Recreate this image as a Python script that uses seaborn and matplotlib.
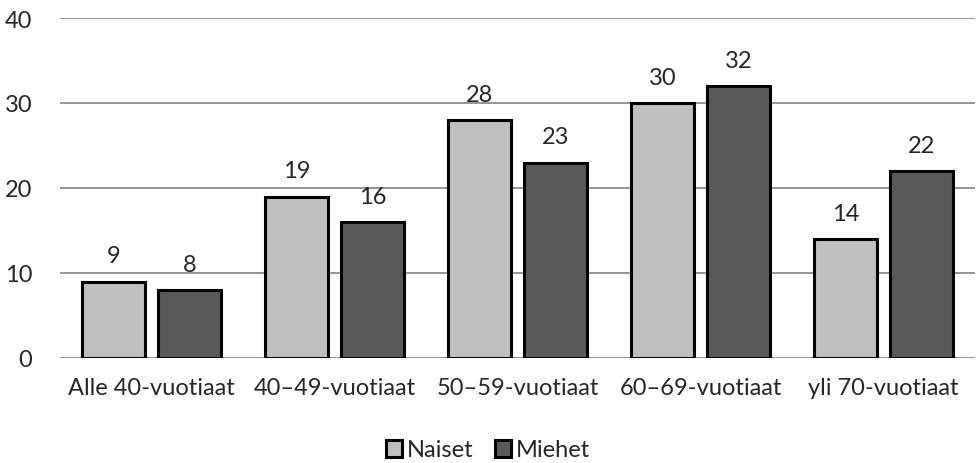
import pandas as pd
import seaborn as sns
import matplotlib.pyplot as plt

sns.set_style('white')
plt.rcParams['font.family'] = ['Lato', 'DejaVu Sans']

# --- data ---
categories = ['Alle 40-vuotiaat', '40–49-vuotiaat', '50–59-vuotiaat', '60–69-vuotiaat', 'yli 70-vuotiaat']
naiset = [9, 19, 28, 30, 14]
miehet = [8, 16, 23, 32, 22]
series = ['Naiset', 'Miehet']
colors = ['#bfbfbf', '#595959']

df = pd.DataFrame({
    'ika': categories * 2,
    'arvo': naiset + miehet,
    'sukupuoli': [series[0]] * len(categories) + [series[1]] * len(categories),
})

fig = plt.figure(figsize=(9.76, 4.64), dpi=100)
ax = fig.add_axes([60 / 976, 1 - 359 / 464, 915 / 976, 340 / 464])

sns.barplot(data=df, x='ika', y='arvo', hue='sukupuoli', palette=colors,
            width=0.83, gap=0.18, edgecolor='black', linewidth=2.2,
            ax=ax, legend=True)

for cont in ax.containers:
    ax.bar_label(cont, fmt='%d', padding=11, fontsize=17)

ax.set_ylim(0, 40)
ax.set_yticks([0, 10, 20, 30, 40])
ax.set_xlim(-0.5, len(categories) - 0.5)
ax.yaxis.grid(True, color='#8c8c8c', linewidth=1.3)
ax.set_axisbelow(True)
for s in ax.spines.values():
    s.set_visible(False)
ax.tick_params(axis='y', length=0, labelsize=17, pad=20)
ax.tick_params(axis='x', length=0, labelsize=17, pad=14)
ax.set_xlabel('')
ax.set_ylabel('')

ax.legend(loc='center', bbox_to_anchor=(0.5, 1 - 451 / 464),
          bbox_transform=fig.transFigure, ncol=2, frameon=False,
          fontsize=17, handlelength=0.7, handleheight=0.7, handletextpad=0.2,
          columnspacing=0.9, borderpad=0)

fig.savefig('out.png', dpi=100)
